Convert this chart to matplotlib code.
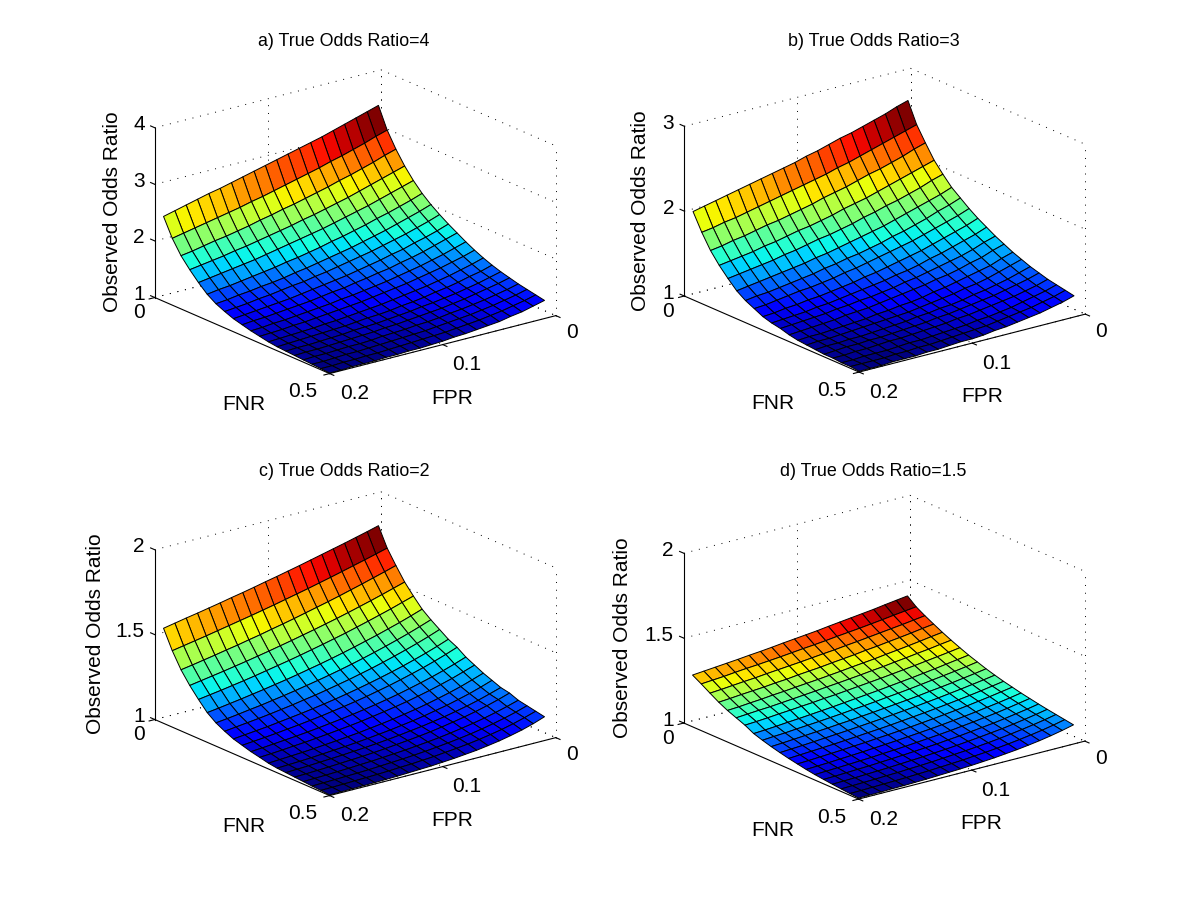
import numpy as np
import matplotlib
matplotlib.use('Agg')
import matplotlib.pyplot as plt
from mpl_toolkits.mplot3d import proj3d

plt.rcParams['font.family'] = ['Liberation Sans', 'DejaVu Sans']

fnr_vals = [.025, .05, .075, .1, .125, .15, .175, .2, .225, .25, .275, .3, .325, .35, .375, .4, .425, .45, .475, .5]
fpr_vals = [.01, .02, .03, .04, .05, .06, .07, .08, .09, .1, .11, .12, .13, .14, .15, .16, .17, .18, .19, .2]

titles = ['a) True Odds Ratio=4', 'b) True Odds Ratio=3', 'c) True Odds Ratio=2', 'd) True Odds Ratio=1.5']
z_ticks = [[1, 2, 3, 4], [1, 2, 3], [1, 1.5, 2], [1, 1.5, 2]]
z_tick_labels = [['1', '2', '3', '4'], ['1', '2', '3'], ['1', '1.5', '2'], ['1', '1.5', '2']]
fnr_ticks = [0, .5]
fnr_tick_labels = ['0', '0.5']
fpr_ticks = [0, .1, .2]
fpr_tick_labels = ['0', '0.1', '0.2']

# observed odds ratio minus 1, rows = FNR, columns = FPR
excess_a = [
[2.49,2.43,2.37,2.31,2.25,2.19,2.14,2.09,2.04,1.99,1.94,1.89,1.84,1.79,1.74,1.70,1.65,1.60,1.55,1.50],
[2.12,2.06,1.99,1.93,1.87,1.82,1.76,1.71,1.66,1.61,1.56,1.51,1.47,1.42,1.38,1.34,1.30,1.26,1.22,1.18],
[1.85,1.79,1.72,1.66,1.60,1.55,1.49,1.44,1.39,1.34,1.30,1.25,1.21,1.16,1.12,1.08,1.05,1.01,.97,.94],
[1.62,1.56,1.50,1.44,1.38,1.32,1.27,1.22,1.17,1.13,1.08,1.04,1.00,.96,.92,.89,.85,.82,.79,.76],
[1.43,1.37,1.31,1.25,1.19,1.14,1.09,1.04,.99,.95,.91,.87,.83,.79,.75,.72,.69,.66,.63,.60],
[1.27,1.20,1.14,1.08,1.03,.97,.92,.87,.83,.78,.74,.70,.67,.63,.60,.57,.54,.51,.49,.46],
[1.14,1.07,1.01,.95,.89,.84,.79,.74,.70,.66,.62,.58,.55,.51,.48,.46,.43,.41,.38,.36],
[1.03,.96,.90,.84,.79,.74,.69,.65,.61,.57,.53,.50,.46,.44,.41,.38,.36,.33,.31,.29],
[.93,.86,.80,.75,.69,.65,.60,.56,.52,.48,.45,.42,.39,.36,.33,.31,.29,.27,.25,.23],
[.84,.78,.72,.66,.61,.57,.52,.49,.45,.42,.38,.36,.33,.30,.28,.26,.24,.22,.21,.19],
[.75,.69,.63,.58,.53,.49,.45,.41,.38,.35,.32,.30,.27,.25,.23,.21,.19,.18,.16,.15],
[.67,.61,.56,.51,.47,.43,.39,.36,.33,.30,.27,.25,.23,.21,.19,.17,.16,.14,.13,.12],
[.60,.54,.49,.44,.40,.36,.33,.30,.27,.24,.22,.20,.18,.16,.15,.13,.12,.11,.10,.09],
[.54,.48,.44,.39,.35,.32,.28,.25,.23,.20,.18,.17,.15,.13,.12,.11,.10,.09,.08,.07],
[.49,.44,.39,.35,.31,.28,.25,.23,.20,.18,.16,.14,.13,.12,.10,.09,.08,.07,.07,.06],
[.45,.40,.36,.32,.28,.25,.22,.20,.18,.16,.14,.13,.11,.10,.09,.08,.07,.06,.06,.05],
[.41,.36,.32,.28,.25,.22,.20,.17,.15,.14,.12,.11,.10,.08,.07,.07,.06,.05,.05,.04],
[.38,.33,.29,.25,.22,.19,.17,.15,.13,.11,.10,.09,.08,.07,.06,.05,.05,.04,.03,.03],
[.35,.30,.26,.22,.19,.16,.14,.12,.10,.09,.08,.07,.06,.05,.04,.04,.03,.03,.02,.02],
[.32,.27,.22,.19,.15,.13,.11,.09,.08,.06,.05,.04,.04,.03,.03,.02,.02,.02,.01,.01],
]
excess_b = [
[1.70,1.66,1.61,1.57,1.53,1.49,1.46,1.42,1.38,1.35,1.31,1.28,1.25,1.22,1.19,1.16,1.13,1.10,1.07,1.04],
[1.46,1.42,1.38,1.34,1.30,1.26,1.22,1.19,1.15,1.12,1.09,1.06,1.03,1.00,.97,.94,.91,.89,.86,.84],
[1.29,1.25,1.20,1.16,1.12,1.09,1.05,1.01,.98,.95,.91,.88,.85,.82,.80,.77,.74,.72,.69,.67],
[1.13,1.09,1.05,1.01,.97,.93,.89,.86,.83,.79,.76,.73,.71,.68,.65,.63,.60,.58,.56,.54],
[1.01,.97,.92,.88,.84,.81,.77,.74,.70,.67,.64,.62,.59,.56,.54,.51,.49,.47,.45,.43],
[.90,.85,.81,.77,.73,.69,.65,.62,.59,.56,.53,.50,.48,.45,.43,.41,.39,.37,.35,.33],
[.82,.77,.73,.68,.64,.60,.57,.53,.50,.47,.45,.42,.40,.37,.35,.33,.31,.29,.28,.26],
[.74,.69,.65,.61,.57,.53,.50,.47,.44,.41,.38,.36,.33,.31,.29,.28,.26,.24,.22,.21],
[.67,.62,.58,.54,.50,.46,.43,.40,.37,.34,.32,.29,.27,.25,.23,.22,.20,.19,.17,.16],
[.61,.56,.52,.48,.44,.41,.37,.34,.32,.29,.27,.25,.23,.21,.19,.18,.16,.15,.14,.13],
[.55,.51,.46,.42,.39,.36,.33,.30,.28,.25,.23,.21,.20,.18,.17,.15,.14,.13,.12,.11],
[.50,.46,.41,.38,.34,.31,.29,.26,.24,.22,.20,.18,.16,.15,.14,.12,.11,.10,.09,.08],
[.45,.41,.36,.33,.30,.27,.24,.22,.19,.17,.16,.14,.13,.11,.10,.09,.08,.07,.07,.06],
[.41,.37,.33,.29,.26,.24,.21,.19,.17,.15,.13,.12,.11,.10,.09,.08,.07,.06,.06,.05],
[.37,.33,.29,.26,.23,.21,.18,.16,.15,.13,.12,.10,.09,.08,.07,.06,.06,.05,.05,.04],
[.34,.30,.27,.24,.21,.19,.17,.15,.13,.12,.10,.09,.08,.07,.06,.06,.05,.05,.04,.03],
[.31,.27,.24,.21,.19,.17,.15,.13,.12,.10,.09,.08,.07,.06,.06,.05,.04,.04,.03,.03],
[.29,.25,.22,.19,.16,.14,.12,.11,.09,.08,.07,.06,.05,.05,.04,.03,.03,.03,.02,.02],
[.27,.23,.20,.17,.15,.13,.11,.09,.08,.07,.06,.05,.04,.04,.03,.03,.02,.02,.02,.02],
[.25,.21,.18,.15,.13,.11,.09,.08,.06,.05,.05,.04,.03,.03,.02,.02,.02,.01,.01,.01],
]
excess_c = [
[.840,.822,.805,.788,.772,.756,.740,.724,.709,.694,.680,.665,.651,.638,.624,.611,.598,.586,.573,.560],
[.730,.712,.694,.677,.660,.643,.627,.611,.596,.581,.566,.552,.538,.525,.512,.499,.486,.474,.462,.450],
[.650,.630,.611,.592,.574,.556,.539,.523,.507,.491,.476,.462,.447,.434,.420,.408,.395,.383,.371,.360],
[.575,.555,.535,.516,.498,.480,.463,.447,.431,.416,.401,.387,.373,.360,.347,.335,.323,.312,.301,.290],
[.515,.494,.473,.454,.435,.417,.399,.383,.367,.352,.337,.323,.310,.297,.284,.272,.261,.250,.240,.230],
[.460,.437,.415,.395,.375,.357,.339,.322,.306,.291,.277,.263,.250,.238,.226,.215,.204,.194,.184,.175],
[.420,.396,.373,.352,.332,.313,.295,.278,.262,.247,.233,.220,.207,.195,.184,.173,.164,.154,.145,.137],
[.385,.360,.337,.316,.296,.277,.259,.243,.227,.213,.199,.186,.175,.163,.153,.143,.134,.126,.118,.110],
[.350,.325,.302,.281,.261,.243,.226,.210,.195,.181,.168,.156,.145,.135,.126,.117,.108,.101,.094,.087],
[.325,.300,.277,.256,.237,.219,.202,.187,.172,.159,.147,.136,.125,.116,.107,.099,.091,.084,.078,.072],
[.290,.266,.244,.224,.206,.189,.173,.159,.146,.134,.123,.113,.104,.095,.087,.080,.074,.068,.062,.057],
[.265,.242,.220,.201,.183,.167,.152,.139,.127,.116,.105,.096,.088,.080,.073,.066,.061,.055,.050,.046],
[.240,.217,.195,.176,.159,.143,.129,.117,.105,.095,.086,.077,.070,.063,.057,.051,.046,.042,.038,.034],
[.220,.197,.176,.158,.141,.127,.113,.101,.091,.081,.073,.065,.058,.052,.047,.042,.037,.033,.030,.027],
[.200,.179,.159,.142,.127,.113,.101,.090,.081,.072,.064,.057,.051,.046,.041,.037,.033,.029,.026,.023],
[.190,.168,.149,.132,.117,.104,.092,.081,.072,.064,.057,.050,.044,.039,.035,.031,.027,.024,.021,.019],
[.170,.150,.132,.116,.102,.090,.079,.069,.061,.054,.047,.042,.037,.032,.029,.025,.022,.019,.017,.015],
[.160,.139,.121,.105,.091,.079,.069,.060,.052,.045,.039,.034,.030,.026,.022,.019,.017,.015,.013,.011],
[.150,.129,.110,.094,.081,.069,.059,.051,.044,.037,.032,.027,.024,.020,.017,.015,.013,.011,.009,.008],
[.140,.116,.096,.080,.066,.055,.045,.038,.031,.026,.021,.018,.015,.012,.010,.008,.007,.006,.005,.004],
]
excess_d = [
[.447,.438,.429,.419,.411,.403,.395,.387,.378,.371,.364,.357,.349,.342,.336,.329,.323,.317,.311,.305],
[.405,.397,.389,.380,.372,.364,.357,.350,.342,.335,.329,.322,.315,.309,.303,.298,.292,.285,.280,.275],
[.375,.366,.357,.349,.341,.333,.325,.318,.310,.304,.297,.290,.284,.278,.272,.265,.260,.254,.248,.243],
[.348,.339,.329,.320,.312,.303,.296,.287,.280,.273,.265,.259,.253,.245,.240,.233,.228,.223,.217,.212],
[.322,.313,.303,.294,.285,.277,.268,.261,.254,.246,.239,.232,.226,.220,.213,.208,.201,.196,.190,.186],
[.298,.289,.279,.271,.262,.254,.245,.238,.230,.223,.216,.210,.203,.197,.191,.185,.179,.175,.170,.165],
[.276,.266,.257,.248,.239,.231,.223,.215,.208,.201,.194,.187,.182,.175,.170,.164,.159,.153,.148,.144],
[.255,.245,.235,.225,.216,.207,.199,.191,.183,.176,.169,.162,.155,.149,.143,.137,.132,.126,.121,.117],
[.237,.226,.216,.207,.198,.189,.180,.172,.165,.157,.150,.144,.137,.131,.125,.120,.115,.109,.105,.100],
[.219,.208,.198,.188,.179,.171,.162,.154,.147,.140,.133,.127,.120,.115,.109,.104,.099,.094,.089,.085],
[.204,.193,.183,.173,.164,.155,.147,.139,.132,.125,.118,.112,.106,.100,.095,.090,.085,.080,.076,.072],
[.190,.179,.168,.158,.149,.140,.132,.124,.117,.110,.103,.097,.092,.086,.081,.076,.072,.068,.064,.060],
[.178,.167,.156,.146,.136,.127,.119,.111,.104,.097,.091,.085,.080,.074,.070,.065,.061,.057,.053,.050],
[.166,.154,.143,.133,.123,.114,.106,.098,.091,.085,.079,.073,.068,.063,.058,.054,.050,.046,.043,.040],
[.156,.144,.132,.121,.112,.103,.095,.087,.080,.074,.068,.062,.057,.053,.048,.045,.041,.038,.035,.032],
[.146,.133,.122,.111,.101,.093,.085,.077,.071,.064,.059,.054,.049,.045,.041,.037,.034,.031,.028,.026],
[.137,.124,.112,.101,.091,.083,.075,.068,.061,.055,.050,.045,.041,.037,.033,.030,.027,.024,.022,.020],
[.129,.115,.103,.092,.082,.073,.065,.058,.052,.047,.042,.037,.033,.030,.026,.024,.021,.019,.017,.015],
[.121,.106,.093,.082,.072,.063,.055,.048,.043,.037,.033,.029,.025,.022,.019,.017,.015,.013,.011,.010],
[.113,.097,.083,.071,.061,.052,.045,.038,.033,.028,.024,.021,.018,.015,.013,.011,.010,.008,.007,.006],
]
tables = [excess_a, excess_b, excess_c, excess_d]

# centre of each 3d box on the page, pixels from top left
centers = [(355.5, 221), (885, 219.5), (355.5, 643), (884.5, 646.5)]
title_y = [41, 41, 471, 471]
ylabel_dx = [-243.5, -244, -260, -261.5]

W = 430.0
fig = plt.figure(figsize=(12, 9), dpi=100, facecolor='white')
jet = plt.get_cmap('jet', 64)
FONT = 15
dots = (0, (1, 7))


def px(x, y):
    return x / 1200, 1 - y / 900


def label_at(ax, x, y, z, s, dx, dy, ha='center'):
    M = ax.get_proj()
    x2, y2, _ = proj3d.proj_transform(x, y, z, M)
    ax.annotate(s, (x2, y2), xytext=(dx, dy), textcoords='offset pixels', ha=ha, va='center',
                fontsize=FONT, annotation_clip=False, color='black')


for k in range(4):
    cx, cy = centers[k]
    x0, y1 = px(cx - 6 - W / 2, cy + 6.5 + W / 2)
    ax = fig.add_axes([x0, y1, W / 1200, W / 900], projection='3d', proj_type='ortho', computed_zorder=False)
    ax.patch.set_alpha(0)
    ax.set_axis_off()
    ax.view_init(elev=19.5, azim=-37.5)
    ax.set_box_aspect((287, 285, 180))

    zt = z_ticks[k]
    zlo, zhi = zt[0], zt[-1]
    ax.set_xlim(0, .5)
    ax.set_ylim(.2, 0)
    ax.set_zlim(zlo, zhi)
    ax.autoscale(False)

    # dotted grid on the two back walls and the floor
    for z in zt:
        ax.plot([0, 0], [.2, 0], [z, z], color='k', lw=.7, ls=dots, zorder=1)
        ax.plot([0, .5], [0, 0], [z, z], color='k', lw=.7, ls=dots, zorder=1)
    for t in fpr_ticks[:-1]:
        ax.plot([0, 0], [t, t], [zlo, zhi], color='k', lw=.7, ls=dots, zorder=1)
        ax.plot([0, .5], [t, t], [zlo, zlo], color='k', lw=.7, ls=dots, zorder=1)
    for t in fnr_ticks:
        ax.plot([t, t], [0, 0], [zlo, zhi], color='k', lw=.7, ls=dots, zorder=1)
        ax.plot([t, t], [.2, 0], [zlo, zlo], color='k', lw=.7, ls=dots, zorder=1)

    Z = 1 + np.array(tables[k])
    X, Y = np.meshgrid(fnr_vals, fpr_vals, indexing='ij')
    colors = jet((Z - Z.min()) / (Z.max() - Z.min()))
    surf = ax.plot_surface(X, Y, Z, facecolors=colors, rstride=1, cstride=1, shade=False, zorder=2)
    surf.set_edgecolor('k')
    surf.set_linewidth(.7)

    # solid axes and ticks
    ax.plot([0, .5], [.2, .2], [zlo, zlo], color='k', lw=.8, zorder=3)
    ax.plot([.5, .5], [.2, 0], [zlo, zlo], color='k', lw=.8, zorder=3)
    ax.plot([0, 0], [.2, .2], [zlo, zhi], color='k', lw=.8, zorder=3)
    for z, s in zip(zt, z_tick_labels[k]):
        ax.plot([0, -.012], [.2, .2], [z, z], color='k', lw=.8, zorder=3, clip_on=False)
        label_at(ax, 0, .2, z, s, -10, 3, ha='right')
    for t, s, dx, dy in zip(fnr_ticks, fnr_tick_labels, [-16, -27], [-15, -18]):
        ax.plot([t, t], [.2, .205], [zlo, zlo], color='k', lw=.8, zorder=3, clip_on=False)
        label_at(ax, t, .2, zlo, s, dx, dy)
    for t, s, dx, dy in zip(fpr_ticks, fpr_tick_labels, [16, 24, 25], [-17, -20, -20]):
        ax.plot([.5, .512], [t, t], [zlo, zlo], color='k', lw=.8, zorder=3, clip_on=False)
        label_at(ax, .5, t, zlo, s, dx, dy)

    tx, ty = px(cx - 11.5, title_y[k])
    fig.text(tx, ty, titles[k], ha='center', va='center', fontsize=12.9)
    tx, ty = px(cx + ylabel_dx[k], cy - 9)
    fig.text(tx, ty, 'Observed Odds Ratio', rotation=90, ha='center', va='center', fontsize=15)
    tx, ty = px(cx - 112, cy + 184)
    fig.text(tx, ty, 'FNR', ha='center', va='center', fontsize=15)
    tx, ty = px(cx + 97, cy + 177)
    fig.text(tx, ty, 'FPR', ha='center', va='center', fontsize=15)

fig.savefig('out.png', dpi=100)
